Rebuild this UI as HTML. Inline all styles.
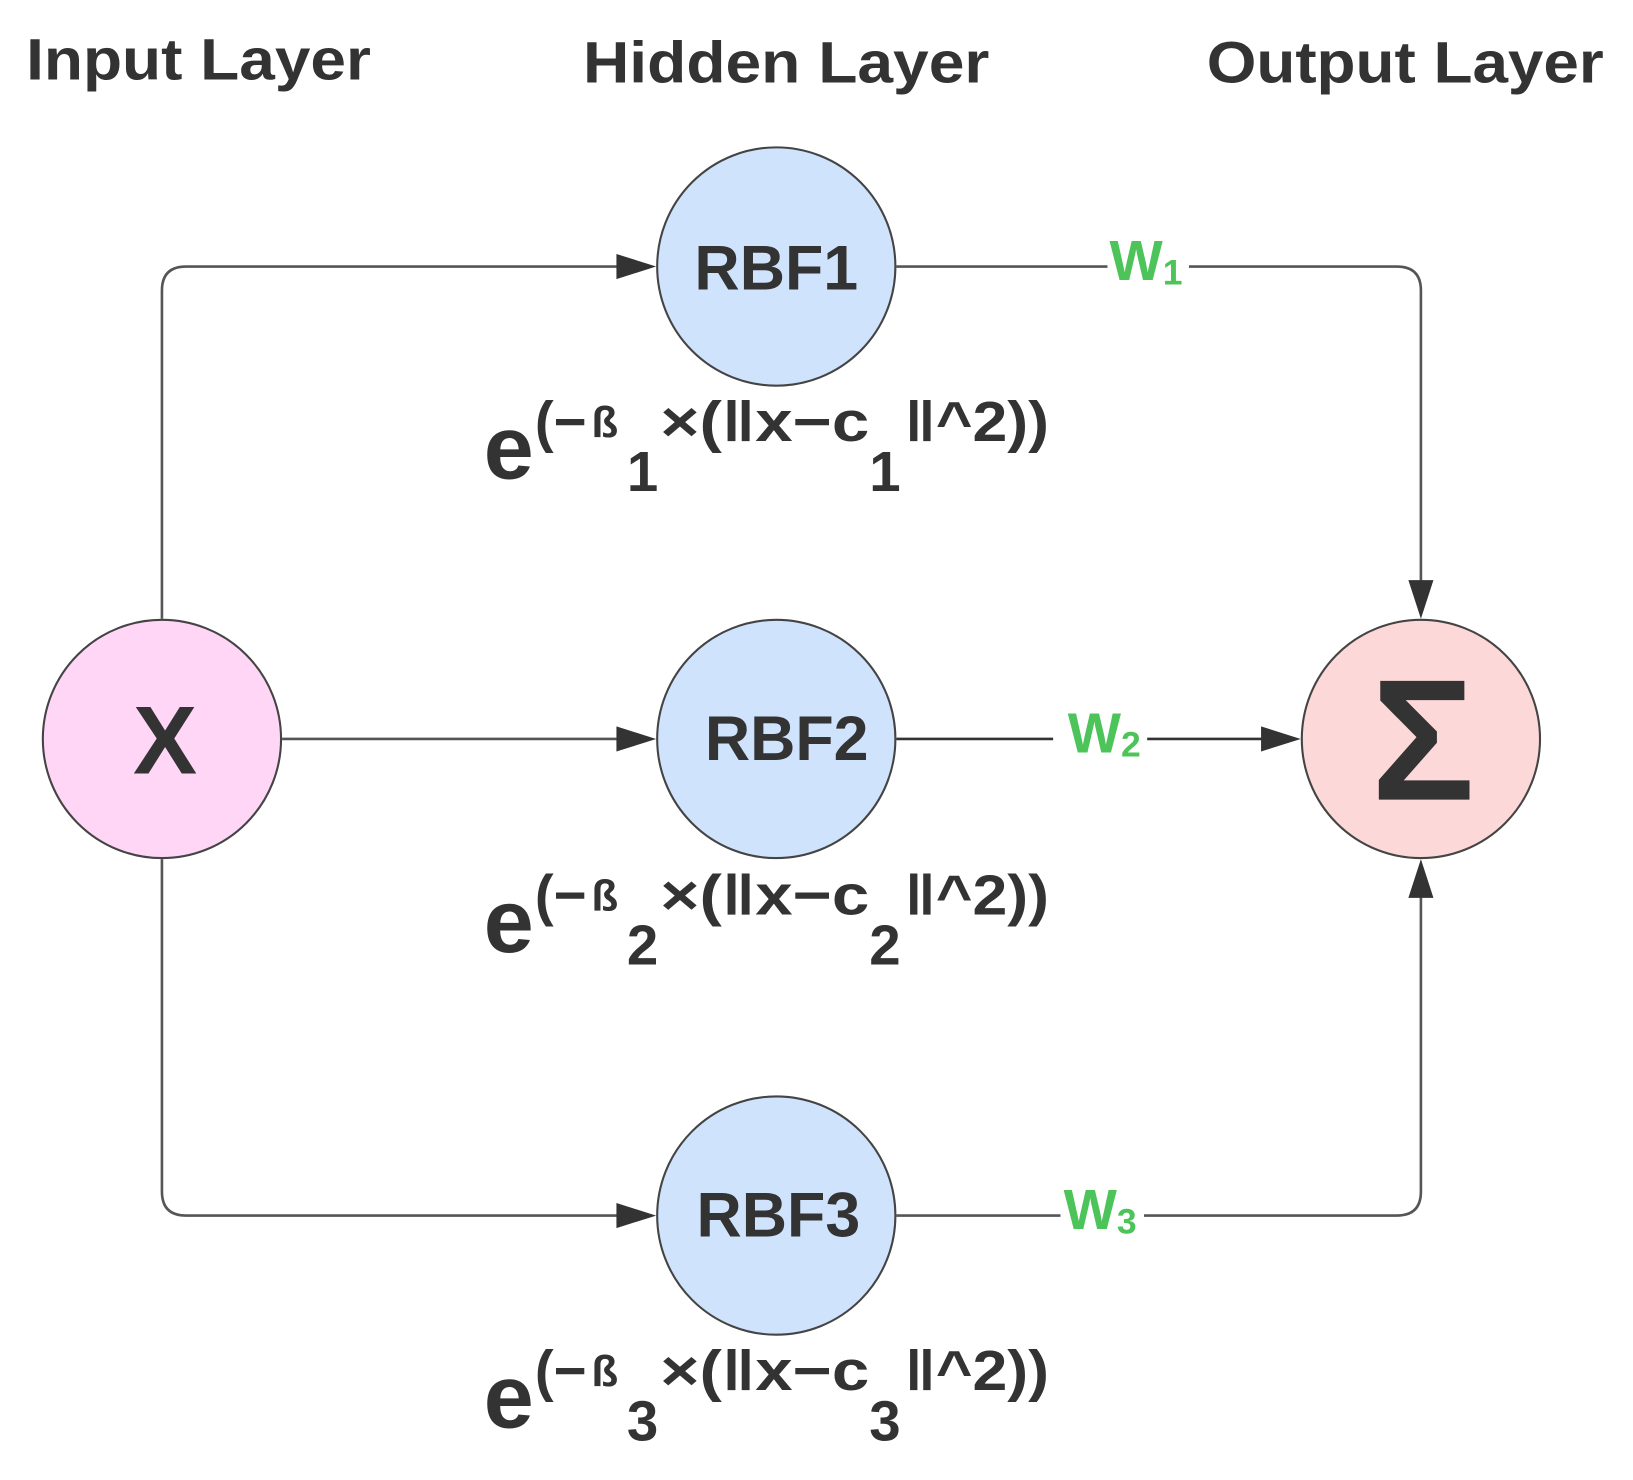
<!DOCTYPE html>
<html><head><meta charset="utf-8"><style>
html,body{margin:0;padding:0;background:#fff;}
svg{display:block;}
text{font-family:"Liberation Sans",sans-serif;font-weight:bold;fill:#333;}
.g{fill:#4cc459;}
</style></head><body>
<svg width="1633" height="1480" viewBox="0 0 1563 1416" preserveAspectRatio="none" xmlns="http://www.w3.org/2000/svg">
<rect width="1563" height="1416" fill="#fff"/>
<text x="25" y="76" font-size="56" textLength="330" lengthAdjust="spacingAndGlyphs">Input Layer</text>
<text x="558" y="79" font-size="56" textLength="389" lengthAdjust="spacingAndGlyphs">Hidden Layer</text>
<text x="1155" y="79" font-size="56" textLength="380" lengthAdjust="spacingAndGlyphs">Output Layer</text>
<g fill="none" stroke="#555" stroke-width="2.5">
<path d="M155 592 V278 Q155 255 178 255 H600"/>
<path d="M270 707 H600"/>
<path d="M155 822 V1140 Q155 1163 178 1163 H600"/>
<path d="M858 255 H1060 M1138 255 H1337 Q1360 255 1360 278 V565"/>
<path d="M858 707 H1008 M1098 707 H1218" stroke="#333"/>
<path d="M858 1163 H1015 M1095 1163 H1337 Q1360 1163 1360 1140 V850"/>
</g>
<g fill="#333">
<polygon points="628,255 590,243 590,267"/>
<polygon points="628,707 590,695 590,719"/>
<polygon points="628,1163 590,1151 590,1175"/>
<polygon points="1245,707 1207,695 1207,719"/>
<polygon points="1360,592 1348,555 1372,555"/>
<polygon points="1360,822 1348,859 1372,859"/>
</g>
<g stroke="#444" stroke-width="2">
<circle cx="155" cy="707" r="114" fill="#ffd6f6"/>
<circle cx="743" cy="255" r="114" fill="#cfe3fd"/>
<circle cx="743" cy="707" r="114" fill="#cfe3fd"/>
<circle cx="743" cy="1163" r="114" fill="#cfe3fd"/>
<circle cx="1360" cy="707" r="114" fill="#fdd8d8"/>
</g>
<text x="158" y="740" font-size="92" text-anchor="middle">X</text>
<text x="743" y="277" font-size="60" text-anchor="middle">RBF1</text>
<text x="753" y="727" font-size="60" text-anchor="middle">RBF2</text>
<text x="745" y="1183" font-size="60" text-anchor="middle">RBF3</text>
<text x="1362" y="765" font-size="165" text-anchor="middle" font-weight="normal">Σ</text>
<text class="g" x="1062" y="268" font-size="54">W<tspan font-size="34" dy="4">1</tspan></text>
<text class="g" x="1022" y="720" font-size="54">W<tspan font-size="34" dy="4">2</tspan></text>
<text class="g" x="1018" y="1176" font-size="54">W<tspan font-size="34" dy="4">3</tspan></text>
<g id="f1">
<text x="463" y="458" font-size="86">e</text>
<text x="512" y="422" font-size="54" font-weight="normal">(−</text>
<text x="566" y="418" font-size="42" font-weight="normal">ß</text>
<text x="600" y="470" font-size="54">1</text>
<text x="632" y="422" font-size="54" font-weight="normal" textLength="200" lengthAdjust="spacingAndGlyphs">×(‖x−c</text>
<text x="832" y="470" font-size="54">1</text>
<text x="866" y="422" font-size="54" font-weight="normal" textLength="138" lengthAdjust="spacingAndGlyphs">‖^2))</text>
</g>
<g transform="translate(0,453)">
<text x="463" y="458" font-size="86">e</text>
<text x="512" y="422" font-size="54" font-weight="normal">(−</text>
<text x="566" y="418" font-size="42" font-weight="normal">ß</text>
<text x="600" y="470" font-size="54">2</text>
<text x="632" y="422" font-size="54" font-weight="normal" textLength="200" lengthAdjust="spacingAndGlyphs">×(‖x−c</text>
<text x="832" y="470" font-size="54">2</text>
<text x="866" y="422" font-size="54" font-weight="normal" textLength="138" lengthAdjust="spacingAndGlyphs">‖^2))</text>
</g>
<g transform="translate(0,908)">
<text x="463" y="458" font-size="86">e</text>
<text x="512" y="422" font-size="54" font-weight="normal">(−</text>
<text x="566" y="418" font-size="42" font-weight="normal">ß</text>
<text x="600" y="470" font-size="54">3</text>
<text x="632" y="422" font-size="54" font-weight="normal" textLength="200" lengthAdjust="spacingAndGlyphs">×(‖x−c</text>
<text x="832" y="470" font-size="54">3</text>
<text x="866" y="422" font-size="54" font-weight="normal" textLength="138" lengthAdjust="spacingAndGlyphs">‖^2))</text>
</g>
</svg>
</body></html>
